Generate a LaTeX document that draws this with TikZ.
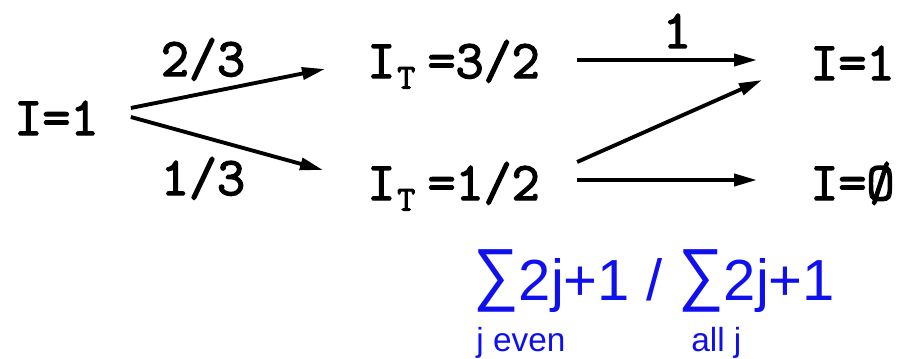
\documentclass[tikz,border=0pt]{standalone}
\usepackage{fontspec}
\newfontfamily\armfont{Liberation Sans}
\newfontfamily\isofont{Latin Modern Mono}[FakeBold=2.6]
\usepackage{xcolor}
\definecolor{sumblue}{HTML}{1010EE}
\usepackage{tikz}
\usetikzlibrary{arrows.meta, positioning}

\tikzset{
  iso/.style={font=\fontsize{31}{31}\selectfont\isofont, inner sep=0pt, anchor=base west},
  prob/.style={font=\fontsize{31}{31}\selectfont\isofont, inner sep=0pt, anchor=base},
  arr/.style={line width=2.2pt, -{Triangle[length=4.6mm, width=2.4mm]}},
  sumtxt/.style={font=\fontsize{33}{33}\selectfont\armfont, text=sumblue, inner sep=0pt, anchor=base west},
  subtxt/.style={font=\fontsize{19}{19}\selectfont\armfont, text=sumblue, inner sep=0pt, anchor=base west}
}
\newcommand{\isoT}{I\hspace{1pt}\raisebox{-6pt}{\fontsize{20}{20}\selectfont T}\hspace{7pt}}
\newcommand{\bigsum}{\raisebox{1.5pt}{\scalebox{1.1}[1.2]{∑}}}

\begin{document}
\begin{tikzpicture}[x=0.02cm, y=-0.02cm]
  \useasboundingbox (0,0) rectangle (901,358);
  % isospin states
  \node[iso] (start) at (14,135) {I=1};
  \node[iso] (half3) at (367,78) {\isoT=3/2};
  \node[iso] (half1) at (367,200) {\isoT=1/2};
  \node[iso] (one) at (810,80) {I=1};
  \node[iso] (zero) at (810,200) {I=Ø};
  % branching fractions
  \foreach \n/\x/\y/\t in {pa/203/76/2\slash 3, pb/203/195/1\slash 3, pc/677/48/1}
    \node[prob] (\n) at (\x,\y) {\t};
  % transitions
  \draw[arr] ([shift={(32,-27)}]start.base east) -- ([shift={(-42,-9)}]half3.base west);
  \draw[arr] ([shift={(32,-18)}]start.base east) -- ([shift={(-44,-30)}]half1.base west);
  \draw[arr] ([shift={(37,-18)}]half3.base east) -- ([shift={(-53,-20)}]one.base west);
  \draw[arr] ([shift={(37,-38)}]half1.base east) -- ([shift={(-48,0)}]one.base west);
  \draw[arr] ([shift={(37,-20)}]half1.base east) -- ([shift={(-53,-20)}]zero.base west);
  % weight formula
  \node[sumtxt] (ratio) at (473,300) {\bigsum2j+1 / \bigsum2j+1};
  \node[subtxt] (even) at (476,351) {j even};
  \node[subtxt] (allj) at (691,351) {all j};
\end{tikzpicture}
\end{document}
